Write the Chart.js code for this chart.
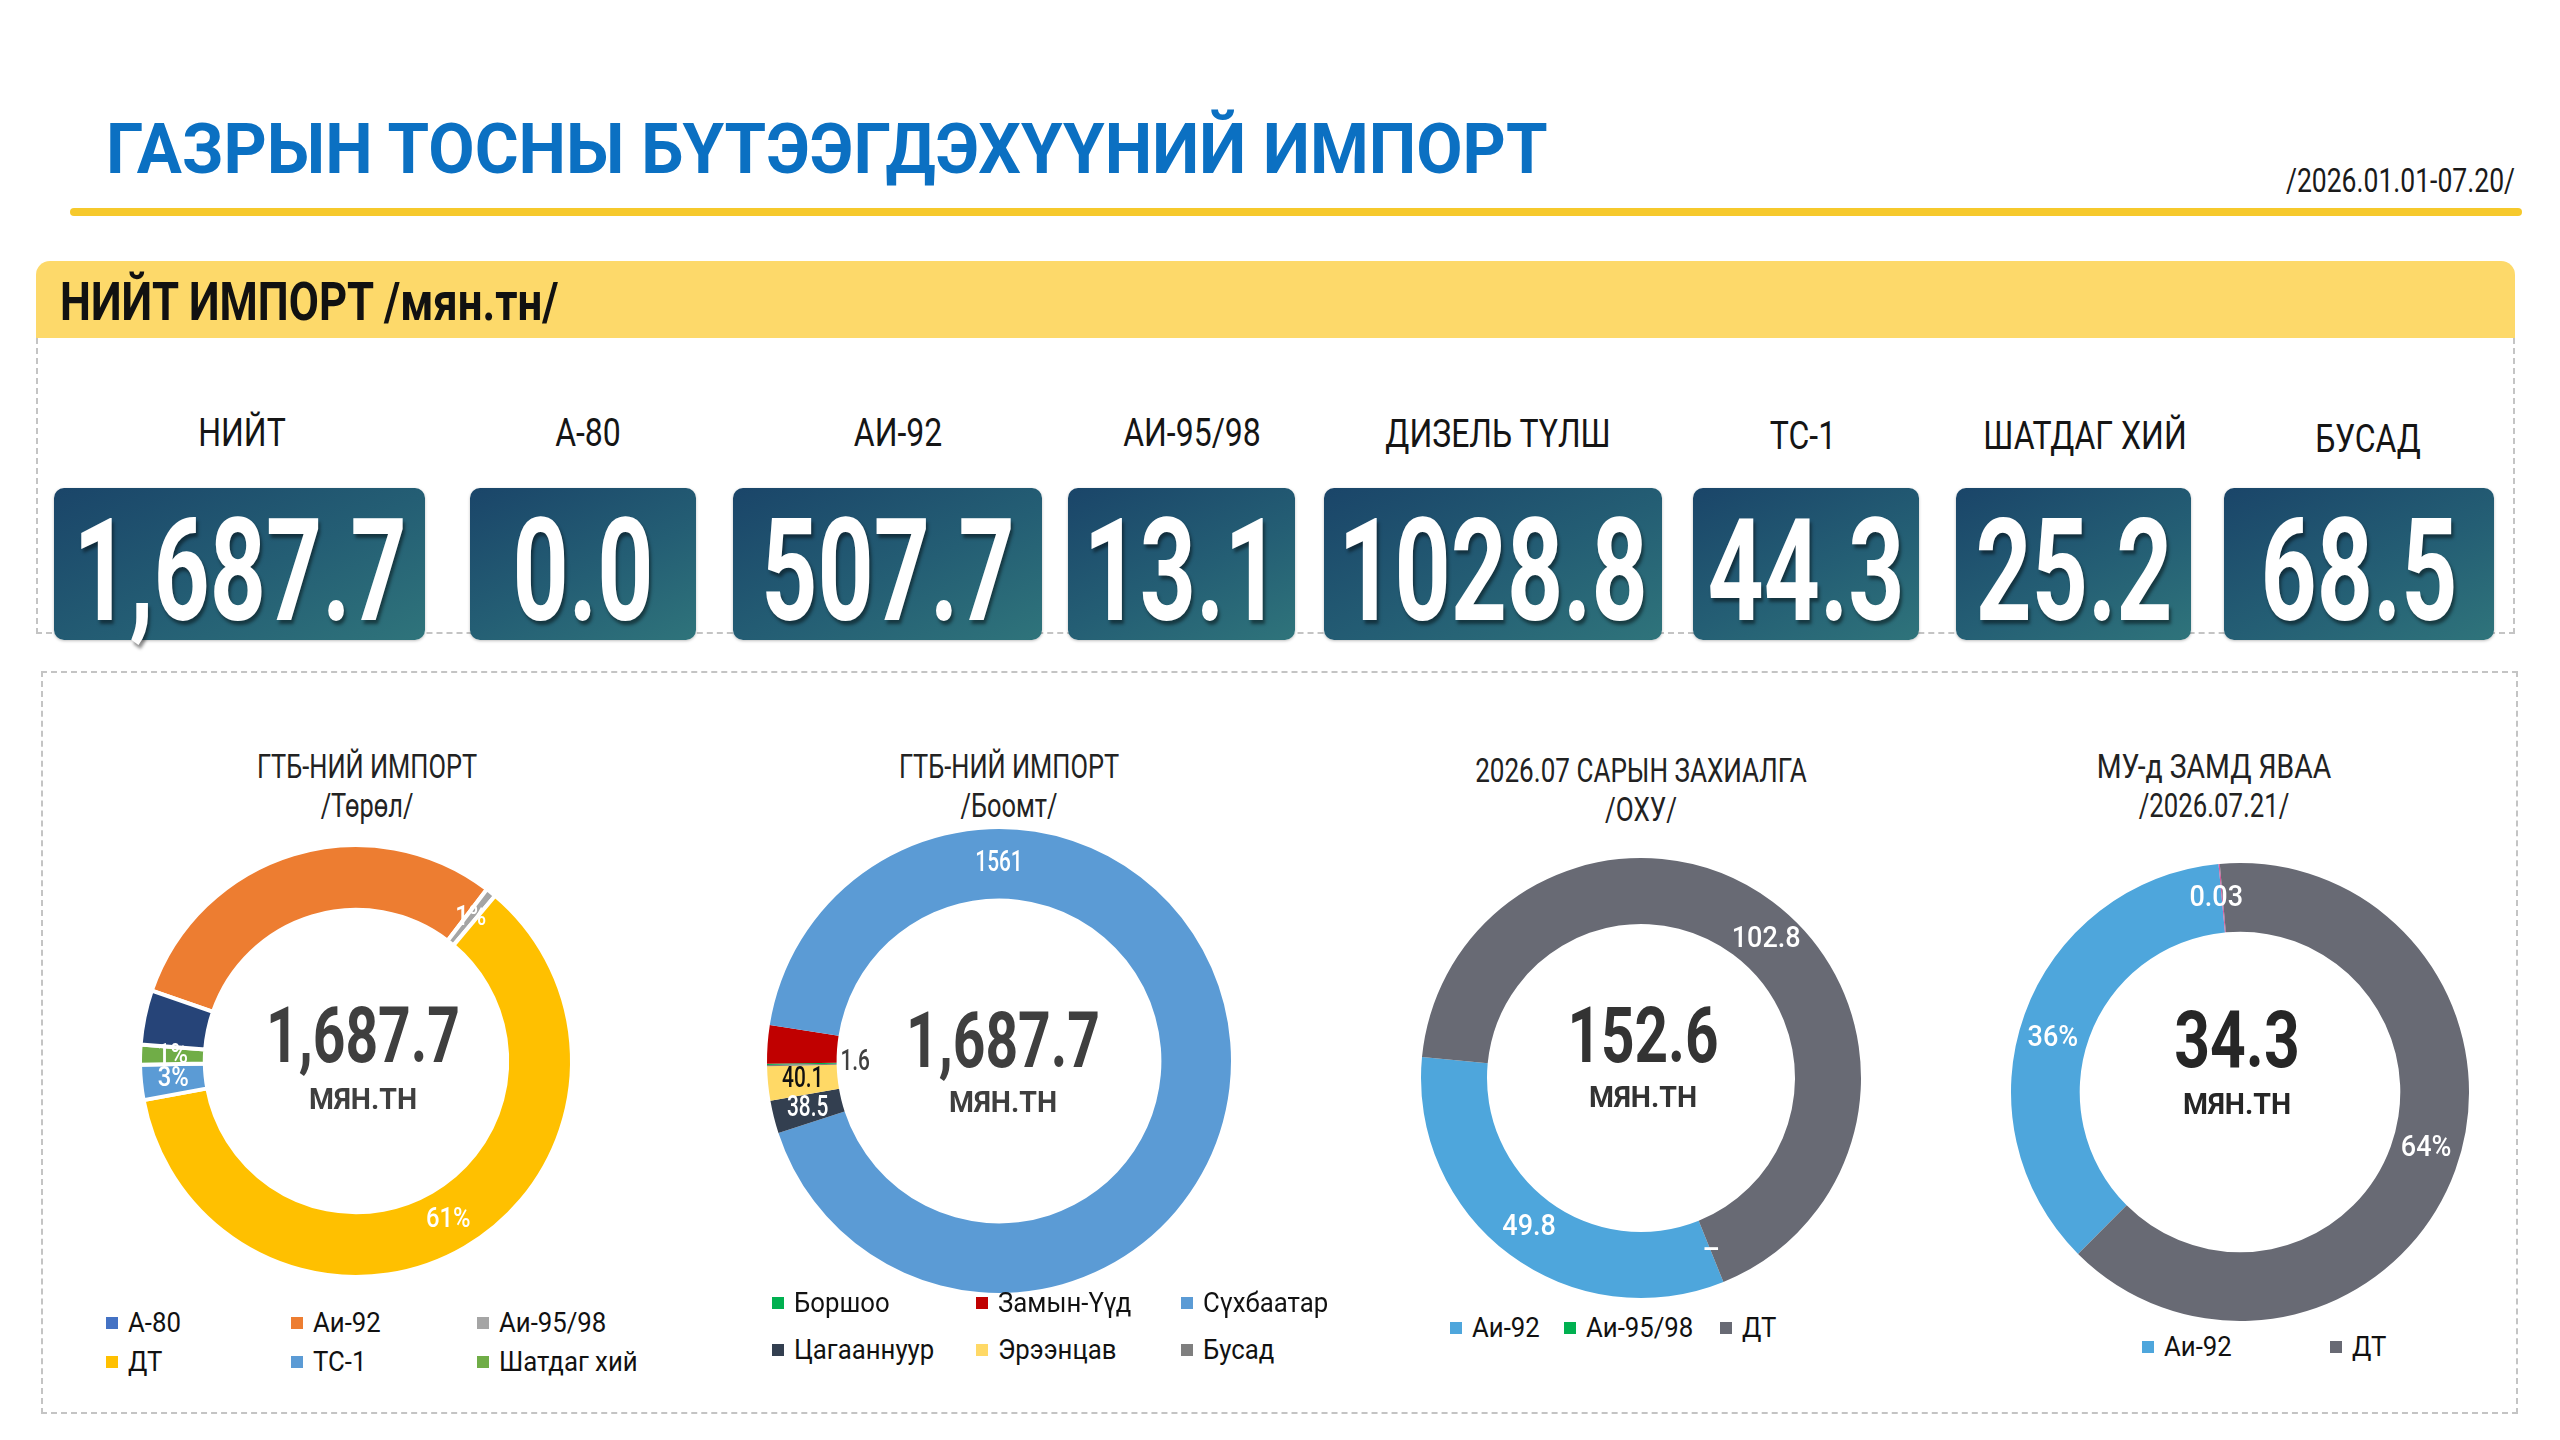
<!DOCTYPE html>
<html lang="mn">
<head>
<meta charset="utf-8">
<title>Газрын тосны бүтээгдэхүүний импорт</title>
<script src="https://cdn.jsdelivr.net/npm/chart.js@4.4.1/dist/chart.umd.min.js"></script>
<style>
  html,body{margin:0;padding:0;background:#fff;}
  body{position:relative;width:2560px;height:1440px;overflow:hidden;font-family:Roboto,"Noto Sans","DejaVu Sans",sans-serif;}
  .t{position:absolute;white-space:nowrap;line-height:1;}
  .yline{position:absolute;left:70px;top:208px;width:2452px;height:8px;background:#F6C92C;border-radius:4px;}
  .hdr{position:absolute;left:36px;top:261px;width:2479px;height:77px;background:#FDD96A;border-radius:14px 14px 0 0;}
  .box1{position:absolute;left:36px;top:338px;width:2475px;height:294px;border:2px dashed #C4C4C4;border-top:none;}
  .box2{position:absolute;left:41px;top:671px;width:2473px;height:739px;border:2px dashed #C4C4C4;}
  .vbox{position:absolute;top:488px;height:152px;border-radius:10px;background:linear-gradient(155deg,#1A4569 0%,#245E74 55%,#2F747B 100%);box-shadow:0 1px 3px rgba(0,0,0,.25);}
  .mk{position:absolute;width:12px;height:12px;}
  canvas{position:absolute;}
</style>
</head>
<body>
<div class="yline"></div>
<div class="hdr"></div>
<div class="box1"></div>
<div class="box2"></div>
<script>
// ---------------- DATA ----------------
const summaryCategories = ['НИЙТ','А-80','АИ-92','АИ-95/98','ДИЗЕЛЬ ТҮЛШ','ТС-1','ШАТДАГ ХИЙ','БУСАД'];
const summaryValues     = [1687.7, 0.0, 507.7, 13.1, 1028.8, 44.3, 25.2, 68.5];

const typeCategories = ['А-80','Аи-92','Аи-95/98','ДТ','ТС-1','Шатдаг хий','Бусад'];
const typeValues     = [0.0, 507.7, 13.1, 1028.8, 44.3, 25.2, 68.5];

const portCategories = ['Боршоо','Замын-Үүд','Сүхбаатар','Цагааннуур','Эрээнцав','Бусад'];
const portValues     = [1.6, 45.0, 1561, 38.5, 40.1, 1.5];

const orderCategories = ['Аи-92','Аи-95/98','ДТ'];
const orderValues     = [49.8, 0, 102.8];

const transitCategories = ['Аи-92','Аи-95/98','ДТ'];
const transitValues     = [12.35, 0.03, 21.92];

const totalImport  = 1687.7;
const orderTotal   = 152.6;
const transitTotal = 34.3;

// ---------------- HELPERS ----------------
function addText(text, x, y, o){
  const d = document.createElement('div');
  d.className = 't';
  d.textContent = text;
  const align = o.align || 'center';
  d.style.left = x + 'px';
  d.style.top = y + 'px';
  d.style.fontSize = o.size + 'px';
  d.style.fontWeight = o.weight || 400;
  d.style.color = o.color || '#111';
  if (o.shadow) d.style.textShadow = o.shadow;
  const tx = align === 'center' ? '-50%' : align === 'right' ? '-100%' : '0';
  d.style.transformOrigin = (align === 'center' ? '50%' : align === 'right' ? '100%' : '0') + ' 50%';
  d.style.transform = `translate(${tx},-50%) scaleX(${o.sx || 1})`;
  document.body.appendChild(d);
  return d;
}
function fmtTotal(v){ return v.toLocaleString('en-US',{minimumFractionDigits:1, maximumFractionDigits:1}); }

// ---------------- HEADER ----------------
addText('ГАЗРЫН ТОСНЫ БҮТЭЭГДЭХҮҮНИЙ ИМПОРТ', 106, 149, {size:70, weight:700, color:'#0B70C2', sx:0.96, align:'left'});
addText('/2026.01.01-07.20/', 2515, 180, {size:34, weight:400, color:'#1a1a1a', sx:0.78, align:'right'});
addText('НИЙТ ИМПОРТ /мян.тн/', 60, 302, {size:54, weight:700, color:'#111', sx:0.81, align:'left'});

// summary layout: [boxLeft, boxWidth, labelX, labelY]
const summaryLayout = [
  [54,371,242,433],[470,226,588,433],[733,309,898,433],[1068,227,1192,433],
  [1324,338,1498,434],[1693,226,1803,436],[1956,235,2085,436],[2224,270,2368,439]
];
summaryCategories.forEach((cat,i)=>{
  const [bl,bw,lx,ly] = summaryLayout[i];
  addText(cat, lx, ly, {size:39, weight:400, color:'#151515', sx:0.82});
  const b = document.createElement('div');
  b.className = 'vbox';
  b.style.left = bl + 'px'; b.style.width = bw + 'px';
  document.body.appendChild(b);
  const txt = i === 0 ? fmtTotal(summaryValues[i]) : summaryValues[i].toFixed(1);
  addText(txt, bl + bw/2, 572, {size:142, weight:700, color:'#fff', sx:0.69, shadow:'3px 4px 4px rgba(0,0,0,0.45)'});
});

// ---------------- PLUGINS ----------------
const sliceLabelPlugin = {
  id:'sliceLabels',
  afterDatasetsDraw(chart, args, opts){
    const items = opts.items || [];
    const meta = chart.getDatasetMeta(0);
    const data = chart.data.datasets[0].data;
    const total = data.reduce((a,b)=>a+b,0);
    const ctx = chart.ctx;
    items.forEach(s=>{
      const arc = meta.data[s.index];
      const p = arc.getProps(['x','y','startAngle','endAngle','innerRadius','outerRadius'], true);
      const ang = s.angle != null ? (s.angle - 90) * Math.PI/180 : (p.startAngle + p.endAngle)/2;
      const r = s.r != null ? s.r * p.outerRadius : (p.innerRadius + p.outerRadius)/2;
      const v = data[s.index];
      const text = s.fmt === 'pct' ? Math.round(v/total*100) + '%' : (v === 0 ? '–' : String(v));
      ctx.save();
      ctx.translate(p.x + Math.cos(ang)*r, p.y + Math.sin(ang)*r);
      ctx.scale(s.sx || opts.sx || 1, 1);
      ctx.font = `${s.weight || opts.weight || 500} ${s.size || opts.size || 28}px Roboto, "Noto Sans", sans-serif`;
      ctx.fillStyle = s.color || '#fff';
      ctx.textAlign = 'center';
      ctx.textBaseline = 'middle';
      ctx.fillText(text, 0, 0);
      ctx.restore();
    });
  }
};
const centerTextPlugin = {
  id:'centerText',
  afterDraw(chart, args, opts){
    const ctx = chart.ctx;
    const a = chart.getDatasetMeta(0).data[0];
    (opts.lines || []).forEach(l=>{
      ctx.save();
      ctx.translate(a.x + (l.dx || 0), a.y + (l.dy || 0));
      ctx.scale(l.sx || 1, 1);
      ctx.font = `${l.weight || 700} ${l.size}px Roboto, "Noto Sans", sans-serif`;
      ctx.fillStyle = l.color || '#3F3F3F';
      ctx.textAlign = 'center';
      ctx.textBaseline = 'middle';
      ctx.fillText(l.text, 0, 0);
      ctx.restore();
    });
  }
};

function makeDonut(cfg){
  const c = document.createElement('canvas');
  const size = 2*(cfg.r + cfg.pad);
  c.width = size; c.height = size;
  c.style.left = (cfg.cx - size/2) + 'px';
  c.style.top = (cfg.cy - size/2) + 'px';
  c.style.width = size + 'px'; c.style.height = size + 'px';
  document.body.appendChild(c);
  return new Chart(c, {
    type:'doughnut',
    data:{labels:cfg.labels, datasets:[{data:cfg.values, backgroundColor:cfg.colors, borderColor:'#fff', borderWidth:cfg.border || 0}]},
    options:{
      responsive:false, animation:false, devicePixelRatio:1,
      cutout:cfg.cutout, rotation:cfg.rotation,
      layout:{padding:cfg.pad},
      plugins:{
        legend:{display:false}, tooltip:{enabled:false},
        sliceLabels:Object.assign({items:cfg.sliceLabels}, cfg.labelFont || {}),
        centerText:{lines:cfg.center}
      }
    },
    plugins:[sliceLabelPlugin, centerTextPlugin]
  });
}

function makeLegend(labels, colors, hidden, xs, ys, cols){
  let k = 0;
  labels.forEach((lab,i)=>{
    if (hidden.includes(lab)) return;
    const x = xs[k % cols], y = ys[Math.floor(k / cols)];
    const m = document.createElement('div');
    m.className = 'mk';
    m.style.left = x + 'px'; m.style.top = (y - 6) + 'px';
    m.style.background = colors[i];
    document.body.appendChild(m);
    addText(lab, x + 22, y, {size:28, weight:400, color:'#111', sx:0.92, align:'left'});
    k++;
  });
}

// ---------------- CHART 1: type ----------------
const typeColors = ['#4472C4','#ED7D31','#A5A5A5','#FFC000','#5B9BD5','#70AD47','#264478'];
addText('ГТБ-НИЙ ИМПОРТ', 367, 766, {size:33, color:'#222', sx:0.77});
addText('/Төрөл/', 367, 805, {size:33, color:'#222', sx:0.77});
makeDonut({
  cx:356, cy:1061, r:218, pad:6, cutout:'70%', rotation:-71, border:4,
  labels:typeCategories, values:typeValues, colors:typeColors,
  labelFont:{size:28, weight:500, sx:0.85},
  sliceLabels:[{index:2, fmt:'pct'}, {index:3, fmt:'pct'}, {index:4, fmt:'pct'}, {index:5, fmt:'pct'}],
  center:[
    {text:fmtTotal(totalImport), size:78, weight:700, sx:0.73, dx:7, dy:-19, color:'#3F3F3F'},
    {text:'МЯН.ТН', size:30, weight:700, sx:0.95, dx:7, dy:40, color:'#3F3F3F'}
  ]
});
makeLegend(typeCategories, typeColors, ['Бусад'], [106,291,477], [1323,1362], 3);

// ---------------- CHART 2: port ----------------
const portColors = ['#00B050','#C00000','#5B9BD5','#333F50','#FFD966','#7F7F7F'];
addText('ГТБ-НИЙ ИМПОРТ', 1009, 766, {size:33, color:'#222', sx:0.77});
addText('/Боомт/', 1009, 805, {size:33, color:'#222', sx:0.77});
makeDonut({
  cx:999, cy:1061, r:232, pad:6, cutout:'70%', rotation:-91, border:0,
  labels:portCategories, values:portValues, colors:portColors,
  labelFont:{size:29, weight:500, sx:0.72},
  sliceLabels:[
    {index:2, angle:0},
    {index:3, color:'#fff'},
    {index:4, color:'#111'},
    {index:0, r:0.62, color:'#404040'}
  ],
  center:[
    {text:fmtTotal(totalImport), size:78, weight:700, sx:0.73, dx:4, dy:-14, color:'#3F3F3F'},
    {text:'МЯН.ТН', size:30, weight:700, sx:0.95, dx:4, dy:43, color:'#3F3F3F'}
  ]
});
makeLegend(portCategories, portColors, [], [772,976,1181], [1303,1350], 3);

// ---------------- CHART 3: order ----------------
const orderColors = ['#4EA6DC','#00B050','#686A74'];
addText('2026.07 САРЫН ЗАХИАЛГА', 1641, 770, {size:33, color:'#222', sx:0.79});
addText('/ОХУ/', 1641, 809, {size:33, color:'#222', sx:0.79});
makeDonut({
  cx:1641, cy:1078, r:220, pad:6, cutout:'70%', rotation:158, border:0,
  labels:orderCategories, values:orderValues, colors:orderColors,
  labelFont:{size:30, weight:500, sx:0.9},
  sliceLabels:[{index:0}, {index:1, angle:158}, {index:2, angle:42}],
  center:[
    {text:fmtTotal(orderTotal), size:78, weight:700, sx:0.75, dx:2, dy:-36, color:'#333'},
    {text:'МЯН.ТН', size:30, weight:700, sx:0.95, dx:2, dy:21, color:'#333'}
  ]
});
makeLegend(orderCategories, orderColors, [], [1450,1564,1720], [1328], 3);

// ---------------- CHART 4: transit ----------------
const transitColors = ['#4EA6DC','#D45B9A','#686A74'];
addText('МУ-д ЗАМД ЯВАА', 2214, 766, {size:33, color:'#222', sx:0.86});
addText('/2026.07.21/', 2214, 805, {size:33, color:'#222', sx:0.78});
makeDonut({
  cx:2240, cy:1092, r:229, pad:6, cutout:'70%', rotation:225, border:0,
  labels:transitCategories, values:transitValues, colors:transitColors,
  labelFont:{size:30, weight:500, sx:0.9},
  sliceLabels:[{index:0, fmt:'pct', angle:286}, {index:1, angle:353}, {index:2, fmt:'pct', angle:107}],
  center:[
    {text:fmtTotal(transitTotal), size:80, weight:700, sx:0.78, dx:-3, dy:-45, color:'#262626'},
    {text:'МЯН.ТН', size:30, weight:700, sx:0.95, dx:-3, dy:14, color:'#262626'}
  ]
});
makeLegend(transitCategories, transitColors, ['Аи-95/98'], [2142,2330], [1347], 2);
</script>
</body>
</html>
